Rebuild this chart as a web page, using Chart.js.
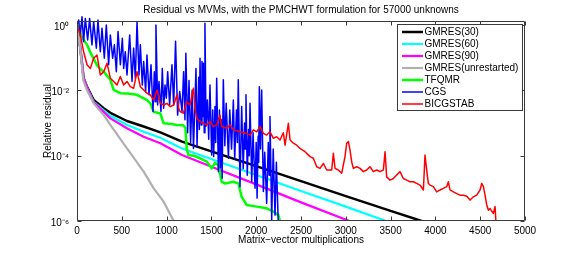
<!DOCTYPE html>
<html><head><meta charset="utf-8">
<script src="https://cdn.jsdelivr.net/npm/chart.js@4/dist/chart.umd.min.js"></script>
<style>html,body{margin:0;padding:0;background:#fff;}canvas{display:block;}</style>
</head><body>
<canvas id="c" width="581" height="253"></canvas>
<script>
const titleText = 'Residual vs MVMs, with the PMCHWT formulation for 57000 unknowns';
const xAxisTitle = 'Matrix\u2212vector multiplications';
const yAxisTitle = 'Relative residual';
const xTicks = [0,500,1000,1500,2000,2500,3000,3500,4000,4500,5000];
const yTickExps = [0,-2,-4,-6];
const yTickLabels = ['10\u2070','10\u207B\u00B2','10\u207B\u2074','10\u207B\u2076'];
const seriesNames = ['GMRES(30)','GMRES(60)','GMRES(90)','GMRES(unrestarted)','TFQMR','CGS','BICGSTAB'];
const seriesColors = ['#000000','#00ffff','#ff00ff','#b0b0b0','#00ff00','#0000ff','#ff0000'];

// values: MVM counts and log10 of relative residual
const gmres30X = [0,15,37,74,112,186,298,372,558,744,930,1172,1600,2000,2500,3000,3500,3846];
const gmres30Exp = [0,-0.3,-0.71,-1.63,-1.89,-2.3,-2.55,-2.69,-2.94,-3.11,-3.29,-3.57,-3.96,-4.32,-4.78,-5.24,-5.69,-6];
const gmres60X = [0,15,37,74,112,186,372,558,744,930,1172,1600,2000,2500,3000,3449];
const gmres60Exp = [0,-0.3,-0.71,-1.63,-1.92,-2.35,-2.78,-3.06,-3.27,-3.45,-3.78,-4.2,-4.59,-5.08,-5.56,-6];
const gmres90X = [0,15,37,74,112,186,372,558,744,930,1172,1600,2000,2500,3040];
const gmres90Exp = [0,-0.3,-0.71,-1.63,-1.93,-2.37,-2.86,-3.16,-3.42,-3.62,-3.98,-4.45,-4.88,-5.43,-6];
const gmresFullX = [0,15,37,70,112,186,298,372,558,744,856,967,1079];
const gmresFullExp = [0,-0.32,-0.75,-1.7,-2.0,-2.4,-2.76,-3.06,-3.78,-4.49,-5.0,-5.41,-6];
const tfqmrX = [0,15,50,112,150,223,260,298,372,409,484,560,670,781,818,856,930,967,1050,1116,1187,1210,1224,1243,1299,1373,1448,1503,1541,1578,1615,1652,1745,1801,1838,1894,2006,2117,2192,2247,2270];
const tfqmrExp = [0,-0.1,-0.35,-0.61,-0.85,-1.23,-1.35,-1.43,-1.68,-1.99,-2.09,-2.1,-2.14,-2.3,-2.4,-2.66,-2.71,-3.01,-3.03,-3.06,-3.07,-3.15,-3.78,-3.98,-4.0,-4.08,-4.18,-4.39,-4.22,-4.3,-4.8,-4.85,-4.8,-4.85,-5.26,-5.51,-5.56,-5.61,-5.71,-5.82,-6.05];
const cgsX = [0,19,37,56,74,93,119,141,167,186,216,234,260,279,305,327,353,372,398,417,439,458,484,506,521,539,558,588,614,632,651,670,692,707,729,744,766,781,804,826,848,863,872,881,900,915,937,952,967,982,997,1012,1034,1060,1079,1100,1123,1146,1172,1190,1205,1215,1235,1250,1268,1285,1300,1328,1340,1358,1366,1373,1385,1395,1403,1410,1420,1428,1440,1455,1470,1484,1503,1515,1525,1540,1548,1559,1578,1590,1600,1610,1620,1633,1650,1665,1690,1705,1725,1745,1760,1780,1790,1800,1819,1838,1855,1870,1878,1886,1900,1915,1922,1931,1950,1965,1987,2000,2010,2022,2028,2035,2048,2061,2080,2095,2117,2135,2145,2154,2173,2190,2210,2225,2247];
const cgsExp = [0,0.15,-0.31,0.25,-0.51,0.2,-0.46,0.2,-0.61,0.1,-0.71,0.15,-0.82,-0.1,-1.02,0.0,-1.22,-0.31,-1.02,-0.61,-1.43,-0.2,-1.22,-0.41,-1.33,-0.82,-1.53,-0.31,-1.73,-0.71,-1.63,0.1,-1.53,-0.61,-1.84,-1.12,-2.04,-0.92,-2.14,-1.22,-2.65,-1.43,-2.35,0.0,-2.45,-1.73,-2.65,-1.33,-2.55,-1.84,-2.24,-1.43,-2.45,-1.22,-2.45,-0.5,-2.76,-2.04,-2.65,-1.43,-2.9,-0.87,-3.3,-1.7,-3.6,-2.0,-3.78,-1.33,-3.73,-1.6,-3.2,-1.02,-3.06,-1.12,-2.8,-1.17,-3.3,0.05,-3.1,-2.3,-3.5,-1.84,-3.98,-2.6,-4.03,-2.5,-3.6,-1.63,-4.49,-2.6,-4.38,-2.9,-4.69,-1.68,-3.7,-2.4,-4.08,-2.6,-3.8,-2.3,-4.1,-2.6,-3.6,-1.68,-4.95,-2.5,-4.4,-3.0,-3.8,-2.14,-4.6,-3.2,-4.0,-2.4,-4.8,-3.3,-5.0,-3.6,-5.3,-3.4,-4.2,-1.89,-3.8,-1.99,-5.1,-3.9,-5.46,-3.6,-4.6,-2.8,-5.97,-3.8,-5.82,-4.2,-6.1];
const bicgstabX = [0,37,74,112,149,186,223,260,298,335,372,409,446,484,521,558,595,632,670,707,744,781,818,856,893,930,967,1004,1042,1079,1116,1135,
 1150,1187,1224,1262,1299,1317,1336,1373,1410,1448,1485,1522,1559,1596,1615,1671,1708,1745,1820,1894,1931,1968,2006,2043,2080,2117,2154,2192,2229,
 2266,2303,2322,2359,2378,2415,2452,2489,2545,2601,2638,2675,2712,2750,2787,2843,2861,2880,2917,2954,2991,3010,3029,3047,3066,3084,3122,3159,3196,3233,3270,3308,3345,3382,3419,3438,3456,3494,3531,3568,3605,3642,3680,3717,3754,3791,3828,3866,3884,3903,3921,3940,3977,4014,4052,4089,4126,4145,4163,4201,4238,4275,4312,4350,4387,4424,4461,4498,4517,4536,4554,4573,4592,4610,4647,4666,4677];
const bicgstabExp = [0,-0.31,-0.82,-1.22,-1.33,-1.02,-0.92,-1.53,-1.43,-1.17,-1.63,-1.73,-1.84,-1.58,-1.84,-1.73,-1.89,-1.94,-1.43,-1.89,-1.99,-2.09,-2.14,-2.30,-1.99,-2.40,-2.45,-2.40,-2.50,-2.45,-2.14,-2.55,
 -2.65,-2.70,-2.35,-2.45,-1.94,-2.55,-2.86,-2.96,-3.01,-3.06,-2.96,-3.11,-3.06,-2.76,-3.11,-3.16,-3.06,-3.21,-3.27,-3.32,-3.37,-3.21,-3.27,-3.11,-3.32,-3.37,-3.27,-3.47,-3.42,
 -3.52,-3.30,-3.68,-3.01,-3.52,-3.62,-3.68,-3.78,-3.88,-4.03,-4.08,-4.34,-4.39,-4.24,-4.44,-4.44,-3.93,-4.39,-4.44,-4.54,-4.03,-3.62,-3.57,-3.83,-4.19,-4.39,-4.34,-4.39,-4.49,-4.44,-4.34,-4.49,-4.44,-4.49,-4.44,-3.88,-4.65,-4.75,-4.70,-4.59,-4.49,-4.70,-4.75,-4.80,-4.80,-4.85,-4.90,-5.05,-3.98,-4.44,-4.85,-4.90,-4.95,-5.11,-5.05,-5.00,-4.95,-4.80,-5.05,-5.11,-5.16,-5.21,-5.21,-5.24,-5.36,-5.26,-5.21,-5.05,-4.85,-4.95,-5.21,-5.51,-5.67,-5.62,-5.77,-5.56,-6.1];

function pts(xs, es, name) {
  if (xs.length !== es.length) throw new Error('length mismatch in ' + name + ': ' + xs.length + ' vs ' + es.length);
  return xs.map((v, i) => ({x: v, y: Math.pow(10, es[i])}));
}
const seriesX = [gmres30X, gmres60X, gmres90X, gmresFullX, tfqmrX, cgsX, bicgstabX];
const seriesExp = [gmres30Exp, gmres60Exp, gmres90Exp, gmresFullExp, tfqmrExp, cgsExp, bicgstabExp];
const lineWidths = [2.5, 2.2, 2.2, 2.2, 2.5, 1.5, 1.5];

const FONT = "'Liberation Sans', Arial, Helvetica, sans-serif";
const yTickValues = yTickExps.map(e => Math.pow(10, e));

const datasets = seriesNames.map((n, i) => ({
  label: n,
  data: pts(seriesX[i], seriesExp[i], n),
  borderColor: seriesColors[i],
  backgroundColor: seriesColors[i],
  borderWidth: lineWidths[i],
  pointRadius: 0,
  tension: 0,
  fill: false,
  order: seriesNames.length - 1 - i,
  borderJoinStyle: 'round',
  clip: n === 'CGS' ? {left: 0, top: 8, right: 0, bottom: 0} : undefined
}));

const framePlugin = {
  id: 'frame',
  afterDraw(chart) {
    const {ctx, chartArea: a, scales: {x, y}} = chart;
    ctx.save();
    ctx.strokeStyle = '#3a3a3a';
    ctx.lineWidth = 1;
    const L = Math.round(a.left) + 0.5, R = Math.round(a.right) - 0.5;
    const T = Math.round(a.top) + 0.5, B = Math.round(a.bottom) - 0.5;
    ctx.beginPath();
    ctx.rect(L, T, R - L, B - T);
    xTicks.forEach(v => {
      const px = Math.round(x.getPixelForValue(v)) + 0.5;
      ctx.moveTo(px, B); ctx.lineTo(px, B - 4);
      ctx.moveTo(px, T); ctx.lineTo(px, T + 4);
    });
    yTickValues.forEach(v => {
      const py = Math.round(y.getPixelForValue(v)) + 0.5;
      ctx.moveTo(L, py); ctx.lineTo(L + 4, py);
      ctx.moveTo(R, py); ctx.lineTo(R - 4, py);
    });
    ctx.stroke();

    // legend box
    const bx = 397.5, by = 24.5, bw = 125, bh = 86;
    ctx.fillStyle = '#ffffff';
    ctx.fillRect(bx, by, bw, bh);
    ctx.strokeStyle = '#3a3a3a';
    ctx.strokeRect(bx, by, bw, bh);
    ctx.font = '10px ' + FONT;
    ctx.textBaseline = 'middle';
    ctx.textAlign = 'left';
    chart.data.datasets.forEach((ds, i) => {
      const yy = 32 + 12 * i;
      ctx.strokeStyle = ds.borderColor;
      ctx.lineWidth = ds.borderWidth;
      ctx.beginPath();
      ctx.moveTo(402, yy); ctx.lineTo(423, yy);
      ctx.stroke();
      ctx.fillStyle = '#000';
      ctx.fillText(ds.label, 424.5, yy);
    });
    ctx.restore();
  }
};

new Chart(document.getElementById('c'), {
  type: 'line',
  data: {datasets},
  options: {
    responsive: false,
    devicePixelRatio: 1,
    animation: false,
    layout: {padding: {left: 21, right: 0, top: 0, bottom: 0}},
    plugins: {
      legend: {display: false},
      tooltip: {enabled: false},
      title: {
        display: true, text: titleText, color: '#000',
        font: {size: 10, family: FONT, weight: 'normal', lineHeight: 1.2},
        padding: {top: 4, bottom: 5}
      }
    },
    scales: {
      x: {
        type: 'linear', min: 0, max: 5000,
        afterBuildTicks: s => { s.ticks = xTicks.map(v => ({value: v})); },
        afterFit: s => { s.height = 32; },
        ticks: {color: '#000', font: {size: 10, family: FONT}, padding: 4, maxRotation: 0, autoSkip: false,
                callback: v => String(v)},
        grid: {display: false, drawTicks: false},
        border: {display: false},
        title: {display: true, text: xAxisTitle, color: '#000', font: {size: 10, family: FONT}, padding: {top: 0, bottom: 7}}
      },
      y: {
        type: 'logarithmic', min: 1e-6, max: Math.pow(10, 0.12),
        afterBuildTicks: s => { s.ticks = yTickValues.map(v => ({value: v})); },
        afterFit: s => { s.width = 56; },
        ticks: {
          color: '#000', font: {size: 10, family: FONT}, padding: 8, autoSkip: false, labelOffset: 2,
          callback: v => {
            const k = yTickExps.indexOf(Math.round(Math.log10(v)));
            return k >= 0 ? yTickLabels[k] : '';
          }
        },
        grid: {display: false, drawTicks: false},
        border: {display: false},
        title: {display: true, text: yAxisTitle, color: '#000', font: {size: 10, family: FONT}, padding: {top: 21, bottom: 0}}
      },
      yRightSpace: {
        type: 'linear', position: 'right', min: 0, max: 1, display: true,
        afterFit: s => { s.width = 56; },
        ticks: {display: false},
        grid: {display: false, drawTicks: false},
        border: {display: false},
        title: {display: false}
      }
    }
  },
  plugins: [framePlugin]
});
</script>
</body></html>
